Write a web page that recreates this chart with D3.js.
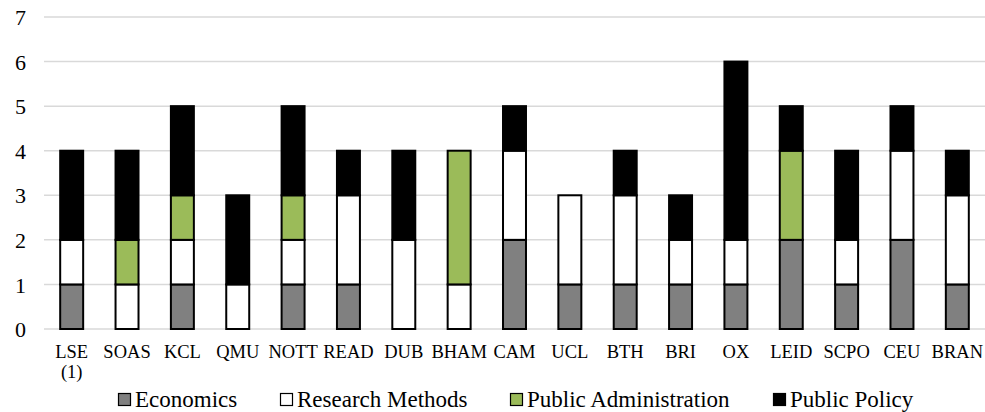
<!DOCTYPE html>
<html>
<head>
<meta charset="utf-8">
<script src="https://cdn.jsdelivr.net/npm/d3@7"></script>
<style>
  html, body { margin: 0; padding: 0; background: #fff; font-family: "Liberation Serif", serif; }
  svg { display: block; font-family: "Liberation Serif", serif; }
  text { font-family: "Liberation Serif", serif; }
</style>
</head>
<body>
<svg id="chart" width="985" height="412" font-family="Liberation Serif" style='font-family: "Liberation Serif", serif'></svg>
<script>
// Course counts per institution, split by subject area
const categories = ["LSE\n(1)", "SOAS", "KCL", "QMU", "NOTT", "READ", "DUB", "BHAM", "CAM", "UCL", "BTH", "BRI", "OX", "LEID", "SCPO", "CEU", "BRAN"];
const economics        = [1, 0, 1, 0, 1, 1, 0, 0, 2, 1, 1, 1, 1, 2, 1, 2, 1];
const researchMethods  = [1, 1, 1, 1, 1, 2, 2, 1, 2, 2, 2, 1, 1, 0, 1, 2, 2];
const publicAdmin      = [0, 1, 1, 0, 1, 0, 0, 3, 0, 0, 0, 0, 0, 2, 0, 0, 0];
const publicPolicy     = [2, 2, 2, 2, 2, 1, 2, 0, 1, 0, 1, 1, 4, 1, 2, 1, 1];
const seriesNames = ["Economics", "Research Methods", "Public Administration", "Public Policy"];
const yTicks = [0, 1, 2, 3, 4, 5, 6, 7];

const colors = ["#808080", "#ffffff", "#9bbb59", "#000000"];
const FONT = '"Liberation Serif"';

const rows = categories.map((c, i) => ({
  cat: c,
  "Economics": economics[i],
  "Research Methods": researchMethods[i],
  "Public Administration": publicAdmin[i],
  "Public Policy": publicPolicy[i]
}));

const svg = d3.select("#chart");
const margin = { left: 44, right: 0 };
const W = 985;

const x = d3.scaleBand()
  .domain(categories)
  .range([margin.left, W - margin.right])
  .paddingInner(0.585)
  .paddingOuter(0.2925);

const y = d3.scaleLinear()
  .domain([0, 7])
  .range([329, 17]);

// horizontal gridlines
svg.append("g")
  .selectAll("line")
  .data(yTicks)
  .join("line")
  .attr("x1", margin.left)
  .attr("x2", W)
  .attr("y1", d => y(d))
  .attr("y2", d => y(d))
  .attr("stroke", "#d9d9d9")
  .attr("stroke-width", 1.5);

// y axis labels
const yAxis = d3.axisLeft(y).tickValues(yTicks).tickFormat(d3.format("d")).tickSize(0).tickPadding(0);
const yg = svg.append("g")
  .attr("transform", "translate(26,0)")
  .call(yAxis)
  .attr("font-family", null)
  .attr("font-size", null);
yg.select(".domain").remove();
yg.selectAll("text")
  .attr("font-family", "Liberation Serif")
  .style("font-family", FONT)
  .style("font-size", "22px")
  .attr("fill", "#000")
  .attr("dy", "0.35em");

// stacked bars
const stacked = d3.stack().keys(seriesNames)(rows);

svg.append("g")
  .selectAll("g")
  .data(stacked)
  .join("g")
  .attr("fill", (d, i) => colors[i])
  .selectAll("rect")
  .data(d => d.filter(s => s[1] - s[0] > 0))
  .join("rect")
  .attr("x", d => x(d.data.cat))
  .attr("width", x.bandwidth())
  .attr("y", d => y(d[1]))
  .attr("height", d => y(d[0]) - y(d[1]))
  .attr("stroke", "#000")
  .attr("stroke-width", 2);

// category labels
const xAxis = d3.axisBottom(x).tickSize(0).tickPadding(0);
const xg = svg.append("g")
  .attr("transform", "translate(0,329)")
  .call(xAxis)
  .attr("font-family", null)
  .attr("font-size", null);
xg.select(".domain").remove();
xg.selectAll(".tick text").each(function(d) {
  const t = d3.select(this);
  const lines = d.split("\n");
  t.text(null)
    .attr("y", 0)
    .attr("dy", null)
    .attr("fill", "#000")
    .attr("font-family", "Liberation Serif")
    .style("font-family", FONT)
    .style("font-size", "18.5px");
  lines.forEach((ln, k) => {
    t.append("tspan")
      .attr("x", 0)
      .attr("y", 29 + k * 20)
      .text(ln);
  });
});

// legend
const legendX = [118, 280, 510, 773];
const legend = svg.append("g");
seriesNames.forEach((name, i) => {
  const g = legend.append("g").attr("transform", `translate(${legendX[i]},393)`);
  g.append("rect")
    .attr("x", 0.5).attr("y", 0.5)
    .attr("width", 12).attr("height", 12)
    .attr("fill", colors[i])
    .attr("stroke", "#000")
    .attr("stroke-width", 1.2);
  g.append("text")
    .attr("x", 17)
    .attr("y", 14)
    .attr("fill", "#000")
    .attr("font-family", "Liberation Serif")
    .style("font-family", FONT)
    .style("font-size", "23px")
    .text(name);
});
</script>
</body>
</html>
